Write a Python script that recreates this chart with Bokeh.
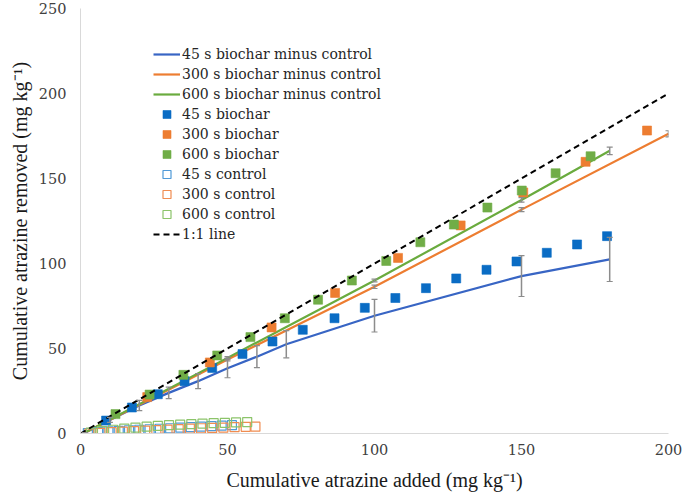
from bokeh.plotting import figure
from bokeh.models import (ColumnDataSource, Whisker, TeeHead, Legend, LegendItem,
                          Range1d, FixedTicker)
from bokeh.embed import file_html
from bokeh.resources import INLINE

# ---------------- data ----------------
# biochar minus control (lines with error bars)
m45_x = [1.5, 10, 20, 30, 40, 50, 60, 70, 100, 150, 180]
m45_y = [0.5, 8.0, 16.5, 23.9, 30.8, 38.4, 45.2, 52.5, 69.3, 92.6, 102.4]
m45_e = [0.0, 1.5, 3.0, 3.4, 4.4, 5.6, 6.5, 8.0, 9.6, 12.0, 13.0]

m300_x = [1.5, 50, 100, 150, 200]
m300_y = [0.5, 43.5, 86.3, 131.7, 176.3]
m300_e = [0.0, 0.8, 1.0, 1.2, 1.8]

m600_x = [1.5, 50, 100, 150, 180]
m600_y = [0.5, 44.5, 90.0, 137.4, 166.3]
m600_e = [0.0, 0.8, 0.8, 1.3, 2.2]

# biochar (filled squares)
b45_x = [8.7, 17.5, 26.3, 35.4, 44.8, 55.1, 65.3, 75.6, 86.4, 96.7, 107.1, 117.5,
         127.8, 138.1, 148.3, 158.6, 168.9, 179.1]
b45_y = [7.6, 15.3, 23.1, 30.8, 38.6, 46.7, 54.1, 61.0, 67.8, 73.9, 79.7, 85.5,
         91.2, 96.3, 101.2, 106.3, 111.2, 116.1]
b300_x = [22.7, 44.0, 65.0, 86.6, 108.0, 129.3, 150.6, 171.8, 192.7]
b300_y = [21.4, 41.8, 62.4, 82.7, 103.3, 122.4, 141.8, 159.8, 178.2]
b600_x = [11.9, 23.5, 35.0, 46.5, 57.8, 69.5, 80.8, 92.3, 104.0, 115.6, 127.0,
          138.4, 150.1, 161.6, 173.5]
b600_y = [11.4, 22.9, 34.5, 45.9, 56.7, 67.8, 78.7, 90.0, 101.5, 112.5, 122.9,
          132.9, 142.9, 153.1, 163.1]

# control (open squares)
c45_x = [2.5, 6.0, 9.5, 13.0, 16.5, 20.0, 23.5, 27.0, 30.5, 34.0, 37.5, 41.0,
         44.5, 48.0, 51.5]
c45_y = [0.3, 0.8, 1.2, 1.6, 1.9, 2.2, 2.5, 2.8, 3.1, 3.4, 3.7, 4.0, 4.3, 4.6, 4.9]
c300_x = [3.0, 6.8, 10.6, 14.4, 18.2, 22.0, 25.8, 29.6, 33.4, 37.2, 41.0, 44.8,
          48.6, 52.4, 56.2, 59.5]
c300_y = [0.0, 0.4, 0.8, 1.1, 1.4, 1.7, 2.0, 2.3, 2.6, 2.9, 3.1, 3.3, 3.5, 3.7,
          3.9, 4.0]
c600_x = [3.5, 7.3, 11.1, 14.9, 18.7, 22.5, 26.3, 30.1, 33.9, 37.7, 41.5, 45.3,
          49.1, 52.9, 56.7]
c600_y = [0.5, 1.4, 2.2, 2.9, 3.5, 4.0, 4.5, 4.9, 5.2, 5.5, 5.8, 6.1, 6.3, 6.5, 6.7]

one_x = [0, 200]
one_y = [0, 200]

x_ticks = [0, 50, 100, 150, 200]
y_ticks = [0, 50, 100, 150, 200, 250]

labels = ["45 s biochar minus control", "300 s biochar minus control",
          "600 s biochar minus control", "45 s biochar", "300 s biochar",
          "600 s biochar", "45 s control", "300 s control", "600 s control",
          "1:1 line"]

# ---------------- styling ----------------
BLUE_L, ORANGE_L, GREEN_L = "#3865C4", "#ED7D31", "#6AAB3E"
BLUE_M, ORANGE_M, GREEN_M = "#0A6CC4", "#ED7D31", "#70AD47"
BLUE_O, ORANGE_O, GREEN_O = "#4F9AD8", "#F08C50", "#8CC46A"
ERR = "#8C8C8C"
TITLE_FONT = "Times New Roman"
TEXT_FONT = "DejaVu Serif"

p = figure(width=682, height=496, x_range=Range1d(0, 200), y_range=Range1d(0, 250),
           output_backend="svg", toolbar_location=None,
           min_border_left=80, min_border_right=14, min_border_top=8,
           min_border_bottom=63)
p.outline_line_color = None
p.xgrid.visible = False
p.ygrid.visible = False

for ax in (p.xaxis[0], p.yaxis[0]):
    ax.axis_line_color = "#D9D9D9"
    ax.axis_line_width = 1
    ax.major_tick_in = 0
    ax.major_tick_out = 0
    ax.minor_tick_in = 0
    ax.minor_tick_out = 0
    ax.major_label_text_font = TEXT_FONT
    ax.major_label_text_font_size = "14.5px"
    ax.major_label_text_color = "#404040"
    ax.axis_label_text_font = TITLE_FONT
    ax.axis_label_text_font_size = "20px"
    ax.axis_label_text_font_style = "normal"
    ax.axis_label_text_color = "#1A1A1A"

p.xaxis.ticker = FixedTicker(ticks=x_ticks)
p.yaxis.ticker = FixedTicker(ticks=y_ticks)
p.xaxis.major_label_standoff = 10
p.yaxis.major_label_standoff = 14
p.xaxis.axis_label_standoff = 11
p.yaxis.axis_label_standoff = 5
p.xaxis.axis_label = "Cumulative atrazine added (mg kg\u207b\u00b9)"
p.yaxis.axis_label = "Cumulative atrazine removed (mg kg\u207b\u00b9)"

renderers = []

# lines with error bars
for xs, ys, es, col in ((m45_x, m45_y, m45_e, BLUE_L),
                        (m300_x, m300_y, m300_e, ORANGE_L),
                        (m600_x, m600_y, m600_e, GREEN_L)):
    src = ColumnDataSource(dict(x=xs, y=ys,
                                lo=[y - e for y, e in zip(ys, es)],
                                hi=[y + e for y, e in zip(ys, es)]))
    w = Whisker(base="x", lower="lo", upper="hi", source=src,
                line_color=ERR, line_width=1.5, level="glyph",
                upper_head=TeeHead(size=6, line_color=ERR, line_width=1.2),
                lower_head=TeeHead(size=6, line_color=ERR, line_width=1.2))
    p.add_layout(w)
    r = p.line("x", "y", source=src, line_color=col, line_width=2.2)
    renderers.append(r)

# biochar filled squares
for xs, ys, col in ((b45_x, b45_y, BLUE_M), (b300_x, b300_y, ORANGE_M),
                    (b600_x, b600_y, GREEN_M)):
    r = p.scatter(xs, ys, marker="square", size=9, fill_color=col,
                  line_color=col, line_alpha=0.6, line_width=1)
    renderers.append(r)

# control open squares
for xs, ys, col in ((c45_x, c45_y, BLUE_O), (c300_x, c300_y, ORANGE_O),
                    (c600_x, c600_y, GREEN_O)):
    r = p.scatter(xs, ys, marker="square", size=9, fill_alpha=0,
                  line_color=col, line_width=1.2)
    renderers.append(r)

# 1:1 line
r = p.line(one_x, one_y, line_color="black", line_width=2, line_dash="6 4")
renderers.append(r)

items = [LegendItem(label=lab, renderers=[rr]) for lab, rr in zip(labels, renderers)]
legend = Legend(items=items, location=(73, 189), orientation="vertical",
                glyph_width=27, glyph_height=20, label_height=20, spacing=0,
                padding=0, margin=0, label_standoff=2,
                label_text_font=TEXT_FONT, label_text_font_size="14px",
                label_text_color="#262626",
                background_fill_alpha=0, border_line_alpha=0)
p.add_layout(legend)

open("out.html", "w").write(file_html(p, INLINE))
